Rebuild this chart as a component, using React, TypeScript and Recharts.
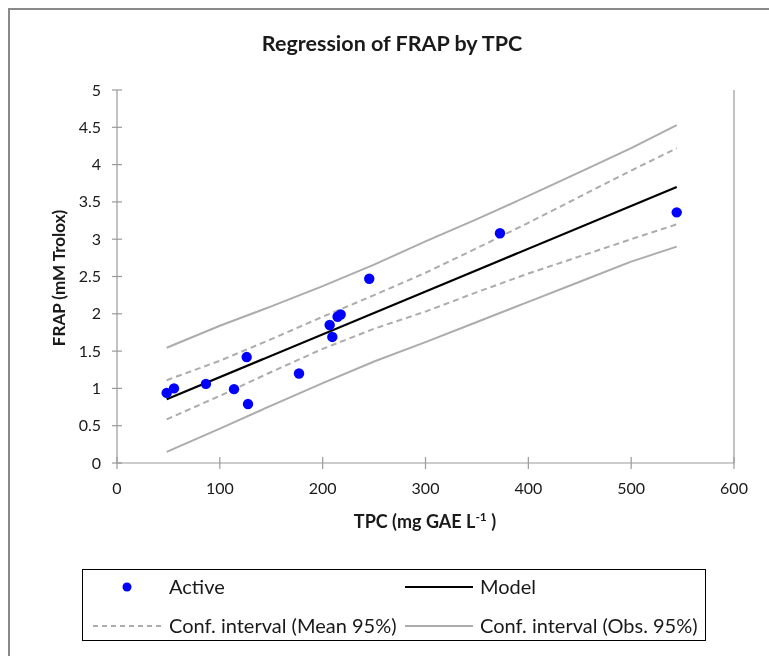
import React from 'react';
import { ComposedChart, XAxis, YAxis, Scatter, Line, ReferenceLine } from 'recharts';

// ---- Data ----
const activeTPC = [48.3, 55.4, 86.5, 113.8, 126.1, 127.4, 177.0, 206.8, 209.4, 214.5, 217.5, 245.3, 372.4, 544.3];
const activeFRAP = [0.94, 1.0, 1.06, 0.99, 1.42, 0.79, 1.2, 1.85, 1.69, 1.96, 1.99, 2.47, 3.08, 3.36];

const modelTPC = [48.3, 544.3];
const modelFRAP = [0.854, 3.7];

const ciTPC = [48.3, 100, 150, 200, 250, 300, 350, 400, 450, 500, 544.3];
const meanUpper = [1.11, 1.37, 1.66, 1.96, 2.25, 2.55, 2.88, 3.22, 3.57, 3.92, 4.22];
const meanLower = [0.585, 0.9, 1.22, 1.53, 1.8, 2.03, 2.29, 2.54, 2.77, 3.0, 3.2];
const obsUpper = [1.545, 1.84, 2.1, 2.37, 2.66, 2.97, 3.27, 3.58, 3.9, 4.22, 4.53];
const obsLower = [0.15, 0.46, 0.77, 1.07, 1.36, 1.62, 1.89, 2.16, 2.43, 2.7, 2.9];

const xTicks = [0, 100, 200, 300, 400, 500, 600];
const yTicks = [0, 0.5, 1, 1.5, 2, 2.5, 3, 3.5, 4, 4.5, 5];

const seriesNames = ['Active', 'Model', 'Conf. interval (Mean 95%)', 'Conf. interval (Obs. 95%)'];
const title = 'Regression of FRAP by TPC';
const yLabel = 'FRAP (mM Trolox)';

// ---- build point tables ----
const pts = (xs: number[], ys: number[]) => xs.map((x, i) => ({ x, y: ys[i] }));
const activeData = pts(activeTPC, activeFRAP);
const modelData = pts(modelTPC, modelFRAP);
const meanUpData = pts(ciTPC, meanUpper);
const meanLoData = pts(ciTPC, meanLower);
const obsUpData = pts(ciTPC, obsUpper);
const obsLoData = pts(ciTPC, obsLower);

const FONT = 'Lato, "Open Sans", sans-serif';
const AXIS = '#9a9a9a';
const CI = '#acacac';
const TXT = '#1a1a1a';

const XTick = (props: any) => {
  const { x, y, payload } = props;
  return (
    <g>
      <line x1={x} x2={x} y1={y - 6} y2={y + 6} stroke={AXIS} strokeWidth={1.2} />
      <text x={x} y={y + 31} textAnchor="middle" fontSize={16} fill={TXT} fontFamily={FONT}>
        {payload.value}
      </text>
    </g>
  );
};

const YTick = (props: any) => {
  const { x, y, payload } = props;
  return (
    <g>
      <line x1={x - 5} x2={x + 5} y1={y} y2={y} stroke={AXIS} strokeWidth={1.2} />
      <text x={x - 16} y={y + 5.5} textAnchor="end" fontSize={16} fill={TXT} fontFamily={FONT}>
        {payload.value}
      </text>
    </g>
  );
};

export default function App() {
  return (
    <div style={{ position: 'relative', width: 753, height: 640, fontFamily: FONT }}>
      <div
        style={{
          position: 'fixed',
          left: 8,
          top: 8,
          width: 761,
          height: 648,
          boxSizing: 'border-box',
          borderTop: '2px solid #8a8a8a',
          borderLeft: '2px solid #8a8a8a',
          pointerEvents: 'none',
        }}
      />
      <div
        style={{
          position: 'absolute',
          left: 15,
          width: 738,
          top: 22,
          textAlign: 'center',
          fontSize: 21.5,
          fontWeight: 'bold',
          color: TXT,
        }}
      >
        {title}
      </div>
      <div style={{ position: 'absolute', left: 0, top: 0 }}>
        <ComposedChart width={753} height={640} margin={{ top: 82, right: 27, left: 49, bottom: 145 }}>
          <XAxis
            type="number"
            dataKey="x"
            domain={[0, 600]}
            ticks={xTicks}
            interval={0}
            allowDataOverflow
            tickSize={0}
            tickMargin={0}
            tickLine={false}
            axisLine={{ stroke: AXIS, strokeWidth: 1.2 }}
            tick={<XTick />}
            height={40}
            label={{
              content: () => (
                <text x={417} y={520} textAnchor="middle" fontSize={18} fontWeight="bold" fill={TXT} fontFamily={FONT}>
                  TPC (mg GAE L<tspan dy={-7} fontSize={12}>-1</tspan>
                  <tspan dy={7}> )</tspan>
                </text>
              ),
            }}
          />
          <YAxis
            type="number"
            dataKey="y"
            domain={[0, 5]}
            ticks={yTicks}
            interval={0}
            allowDataOverflow
            tickSize={0}
            tickMargin={0}
            tickLine={false}
            axisLine={{ stroke: AXIS, strokeWidth: 1.2 }}
            tick={<YTick />}
            width={60}
            label={{
              content: () => (
                <text
                  x={50}
                  y={270}
                  transform="rotate(-90 50 270)"
                  textAnchor="middle"
                  dominantBaseline="central"
                  fontSize={17}
                  fontWeight="bold"
                  fill={TXT}
                  fontFamily={FONT}
                >
                  {yLabel}
                </text>
              ),
            }}
          />
          <ReferenceLine x={600} stroke={AXIS} strokeWidth={1.2} />
          <Line data={obsUpData} dataKey="y" type="linear" stroke={CI} strokeWidth={2} dot={false} isAnimationActive={false} />
          <Line data={obsLoData} dataKey="y" type="linear" stroke={CI} strokeWidth={2} dot={false} isAnimationActive={false} />
          <Line data={meanUpData} dataKey="y" type="linear" stroke={CI} strokeWidth={2} strokeDasharray="6 4" dot={false} isAnimationActive={false} />
          <Line data={meanLoData} dataKey="y" type="linear" stroke={CI} strokeWidth={2} strokeDasharray="6 4" dot={false} isAnimationActive={false} />
          <Line data={modelData} dataKey="y" type="linear" stroke="#000" strokeWidth={2.2} dot={false} isAnimationActive={false} />
          <Scatter data={activeData} dataKey="y" fill="#0000ff" isAnimationActive={false} shape={(p: any) => <circle cx={p.cx} cy={p.cy} r={5.2} fill="#0000ff" />} />
        </ComposedChart>
      </div>
      <div
        style={{
          position: 'absolute',
          left: 74,
          top: 561,
          width: 624,
          height: 72,
          boxSizing: 'border-box',
          border: '1.5px solid #000',
          background: '#fff',
        }}
      >
        <svg width={621} height={69} style={{ position: 'absolute', left: 0, top: 0 }}>
          <circle cx={44} cy={17} r={4.5} fill="#0000ff" />
          <text x={86} y={23.5} fontSize={20} fill={TXT} fontFamily={FONT}>{seriesNames[0]}</text>
          <line x1={322} x2={390} y1={17} y2={17} stroke="#000" strokeWidth={2} />
          <text x={397} y={23.5} fontSize={20} fill={TXT} fontFamily={FONT}>{seriesNames[1]}</text>
          <line x1={10} x2={78} y1={56} y2={56} stroke={CI} strokeWidth={2} strokeDasharray="5 4" />
          <text x={86} y={62.5} fontSize={20} fill={TXT} fontFamily={FONT}>{seriesNames[2]}</text>
          <line x1={322} x2={390} y1={56} y2={56} stroke={CI} strokeWidth={2} />
          <text x={397} y={62.5} fontSize={20} fill={TXT} fontFamily={FONT}>{seriesNames[3]}</text>
        </svg>
      </div>
    </div>
  );
}
